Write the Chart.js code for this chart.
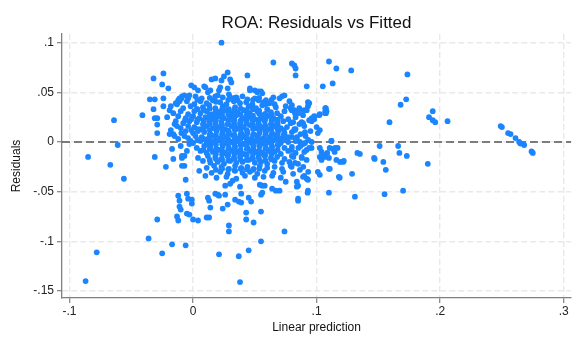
<!DOCTYPE html>
<html>
<head>
<meta charset="utf-8">
<title>ROA: Residuals vs Fitted</title>
<script src="https://cdn.jsdelivr.net/npm/chart.js@4.4.1/dist/chart.umd.min.js"></script>
<style>
  html, body { margin: 0; padding: 0; background: #fff; }
  canvas { display: block; }
</style>
</head>
<body>
<canvas id="rvf" width="574" height="337"></canvas>
<script>
// [fitted, residual] pairs, grouped by where they sit in the plot
const leftTail = [
  [-0.087,-0.140],[-0.085,-0.015],[-0.078,-0.111],[-0.067,-0.023],[-0.064,0.022],[-0.061,-0.003],
  [-0.056,-0.037],[-0.041,0.027],[-0.036,-0.097],[-0.035,0.043],[-0.032,0.064],[-0.031,0.043],
  [-0.032,0.033],[-0.031,0.024],[-0.029,0.024],[-0.029,0.0175],[-0.029,0.009],[-0.031,-0.015],
  [-0.029,-0.078],[-0.025,-0.112],[-0.025,0.058],[-0.024,0.069],[-0.024,0.044],[-0.024,0.036],
  [-0.022,-0.025],[-0.021,0.025],[-0.020,0.054],[-0.019,0.032],[-0.019,0.008],[-0.016,0.008],
  [-0.017,-0.007],[-0.016,-0.017],[-0.017,-0.103],[-0.015,0.018],[-0.015,0.006],[-0.014,0.021],
  [-0.013,0.016],[-0.013,0.038],[-0.011,0.041],[-0.0095,0.0437],[-0.0095,0.009],[-0.009,-0.016],
  [-0.009,-0.024],[-0.018,0.012],[-0.012,0.003],[-0.007,0.006],[-0.010,-0.004],[-0.005,-0.009],
  [-0.003,-0.002],[-0.002,0.001]
];

const lowerSpread = [
  [-0.013,-0.075],[-0.012,-0.079],[-0.012,-0.054],[-0.011,-0.059],[-0.010,-0.068],[-0.011,-0.065],
  [-0.009,-0.014],[-0.007,-0.014],[-0.007,-0.024],[-0.006,-0.038],[-0.006,-0.104],[-0.005,-0.052],
  [-0.004,-0.057],[-0.005,-0.072],[-0.003,-0.073],[0.000,-0.078],[0.004,-0.079],[-0.001,-0.058],
  [-0.001,-0.062],[0.011,-0.076],[0.013,-0.076],[0.012,-0.056],[0.013,-0.059],[0.014,-0.066],
  [0.018,-0.052],[0.020,-0.053],[0.021,-0.054],[0.021,-0.113],[0.024,-0.067],[0.026,-0.053],
  [0.028,-0.063],[0.029,-0.084],[0.029,-0.090],[0.026,-0.044],[0.030,-0.042],[0.032,-0.039],
  [0.034,-0.058],[0.037,-0.060],[0.039,-0.061],[0.037,-0.115],[0.038,-0.141],[0.039,-0.052],
  [0.038,-0.045],[0.043,-0.071],[0.043,-0.078],[0.045,-0.109],[0.045,-0.056],[0.047,-0.060],
  [0.049,-0.081],[0.055,-0.100],[0.055,-0.070],[0.054,-0.043],[0.056,-0.044],[0.058,-0.044],
  [0.055,-0.053],[0.056,-0.051],[0.064,-0.047],[0.067,-0.049],[0.070,-0.049],[0.074,-0.090],
  [0.075,-0.040],[0.084,-0.040],[0.085,-0.044],[0.085,-0.057],[0.093,-0.049],[0.092,-0.037],
  [0.090,-0.034]
];

const upperSpread = [
  [-0.0015,0.057],[0.001,0.055],[-0.004,0.044],[0.023,0.100],[0.028,0.070],[0.025,0.066],
  [0.030,0.063],[0.031,0.060],[0.023,0.062],[0.015,0.063],[0.018,0.064],[0.044,0.067],
  [0.065,0.080],[0.080,0.079],[0.082,0.077],[0.083,0.074],[0.083,0.067],[0.092,0.056],
  [0.105,0.056],[0.113,0.059],[0.110,0.081],[0.116,0.074],[0.128,0.072],
  [-0.012,0.042],[-0.011,0.044],[-0.009,0.046],[-0.007,0.047],[-0.003,0.047],[0.004,0.052],
  [0.009,0.056],[0.010,0.055],[0.012,0.050],[0.014,0.052],[0.018,0.046],[0.020,0.047],
  [0.021,0.052],[0.022,0.055],[0.028,0.054],[0.029,0.048],[0.030,0.045],[0.035,0.045],
  [0.036,0.042],[0.046,0.054],[0.046,0.052],[0.050,0.052],[0.052,0.050],[0.053,0.051],
  [0.055,0.051],[0.056,0.049],[0.050,0.044],[0.053,0.042],[0.059,0.042],[0.062,0.039],
  [0.070,0.044],[0.072,0.046],[0.074,0.047],[0.075,0.036],[0.079,0.034],[0.082,0.032],
  [0.090,0.032],[0.093,0.040],[0.093,0.036],[0.094,0.022],[0.096,0.024],[0.098,0.026],
  [0.107,0.034],[0.107,0.031],[0.107,0.029],[0.102,0.027]
];

const rightSpread = [
  [0.0798,0.032],[0.0825,0.029],[0.0865,0.032],[0.0879,0.020],[0.0825,0.012],[0.0798,0.005],
  [0.0865,0.000],[0.0906,-0.001],[0.0932,0.002],[0.0852,-0.006],[0.0919,-0.008],[0.0959,-0.006],
  [0.0798,-0.008],[0.0812,-0.015],[0.0879,-0.015],[0.0919,-0.018],[0.0825,-0.021],[0.0892,-0.025],
  [0.0798,-0.025],[0.0865,-0.028],[0.0932,-0.030],[0.094,0.039],[0.092,0.032],[0.1075,0.034],
  [0.108,0.031],[0.1075,0.029],[0.1026,0.028],[0.098,0.023],[0.096,0.021],[0.081,0.020],
  [0.089,0.019],[0.100,0.015],[0.1026,0.012],[0.101,0.009],[0.0906,0.010],[0.083,0.013],
  [0.084,0.005],[0.112,0.001],[0.1287,-0.032],[0.1187,-0.036],[0.1107,-0.027],[0.0927,-0.051],
  [0.085,-0.059],[0.089,-0.035],[0.093,-0.038],[0.1026,-0.006],[0.104,-0.010],[0.1056,-0.013],
  [0.107,-0.015],[0.1086,-0.011],[0.110,-0.016],[0.104,-0.018],[0.1026,-0.015],[0.1106,-0.006],
  [0.1133,-0.007],[0.1146,-0.010],[0.116,-0.018],[0.119,-0.020],[0.1214,-0.020],[0.101,-0.030],
  [0.1026,-0.033],[0.084,-0.045]
];

const rightTail = [
  [0.1735,0.068],[0.1725,0.043],[0.168,0.0375],[0.159,0.020],[0.194,0.031],[0.191,0.025],
  [0.194,0.022],[0.196,0.020],[0.206,0.021],[0.249,0.016],[0.250,0.015],[0.255,0.009],
  [0.257,0.008],[0.261,0.004],[0.264,0.000],[0.265,-0.0015],[0.268,-0.003],[0.274,-0.0095],
  [0.275,-0.011],[0.151,-0.004],[0.1465,-0.016],[0.154,-0.020],[0.156,-0.028],[0.155,-0.0525],
  [0.166,-0.004],[0.167,-0.011],[0.173,-0.014],[0.170,-0.049],[0.190,-0.022],[0.133,-0.011],
  [0.135,-0.012],[0.131,-0.055],[0.110,-0.051],[0.118,-0.035],[0.110,-0.027],
  [0.122,-0.019],[0.112,0.001],[0.115,-0.006],[0.117,-0.006],[0.147,-0.017]
];

const core = [
  [0.002,0.046],[0.007,0.044],[0.024,0.045],[0.040,0.046],[0.044,0.043],[0.065,0.045],
  [-0.014,0.039],[-0.005,0.041],[0.001,0.038],[0.006,0.041],[0.011,0.039],[0.016,0.042],[0.022,0.040],
  [0.027,0.038],[0.033,0.041],[0.038,0.039],[0.043,0.040],[0.048,0.038],[0.057,0.040],[0.066,0.038],[0.078,0.041],
  [-0.018,0.036],[-0.008,0.034],[-0.002,0.036],[0.003,0.033],[0.008,0.035],[0.013,0.037],[0.018,0.034],
  [0.024,0.036],[0.029,0.033],[0.034,0.035],[0.045,0.036],[0.051,0.034],[0.056,0.037],[0.060,0.033],
  [0.067,0.035],[0.080,0.037],[0.086,0.034],
  [-0.016,0.029],[-0.010,0.031],[-0.004,0.028],[0.001,0.031],[0.006,0.029],[0.011,0.031],[0.016,0.028],
  [0.021,0.030],[0.026,0.032],[0.031,0.029],[0.036,0.030],[0.041,0.032],[0.046,0.029],[0.052,0.031],
  [0.058,0.028],[0.063,0.030],[0.068,0.029],[0.074,0.031],[0.085,0.029],
  [-0.012,0.026],[-0.006,0.024],[0.000,0.026],[0.005,0.024],[0.010,0.025],[0.015,0.023],[0.020,0.026],
  [0.025,0.024],[0.030,0.025],[0.035,0.027],[0.040,0.024],[0.045,0.026],[0.050,0.023],[0.055,0.025],
  [0.060,0.026],[0.065,0.024],[0.071,0.026],[0.077,0.023],[0.083,0.025],[0.089,0.027],
  [-0.008,0.019],[-0.003,0.021],[0.003,0.020],[0.008,0.018],[0.013,0.021],[0.018,0.019],[0.023,0.020],
  [0.028,0.018],[0.033,0.021],[0.038,0.019],[0.043,0.020],[0.048,0.022],[0.053,0.019],[0.058,0.021],
  [0.063,0.018],[0.068,0.020],[0.073,0.021],[0.079,0.019],[0.086,0.018],
  [-0.010,0.014],[-0.004,0.016],[0.001,0.015],[0.006,0.013],[0.011,0.016],[0.016,0.014],[0.021,0.015],
  [0.026,0.013],[0.031,0.016],[0.036,0.014],[0.041,0.015],[0.046,0.017],[0.051,0.014],[0.056,0.015],
  [0.061,0.013],[0.066,0.016],[0.071,0.014],[0.076,0.015],[0.082,0.013],[0.090,0.016],
  [-0.006,0.011],[0.000,0.009],[0.004,0.011],[0.009,0.010],[0.014,0.008],[0.019,0.011],[0.024,0.009],
  [0.029,0.010],[0.034,0.012],[0.039,0.009],[0.044,0.010],[0.049,0.008],[0.054,0.011],[0.059,0.010],
  [0.064,0.009],[0.069,0.011],[0.074,0.009],[0.080,0.010],[0.087,0.008],[0.095,0.011],
  [-0.004,0.004],[0.002,0.006],[0.007,0.005],[0.012,0.003],[0.017,0.006],[0.022,0.004],[0.027,0.005],
  [0.032,0.007],[0.037,0.004],[0.042,0.005],[0.047,0.003],[0.052,0.006],[0.057,0.004],[0.062,0.005],
  [0.067,0.007],[0.072,0.004],[0.077,0.005],[0.084,0.003],[0.091,0.006],
  [0.000,-0.001],[0.006,0.001],[0.011,-0.001],[0.016,0.000],[0.021,0.002],[0.026,-0.001],[0.031,0.000],
  [0.036,0.001],[0.041,-0.002],[0.046,0.000],[0.051,0.001],[0.056,-0.001],[0.061,0.000],[0.066,0.002],
  [0.071,-0.001],[0.077,0.000],[0.083,0.001],[0.089,-0.002],[0.096,0.000],
  [0.003,-0.006],[0.009,-0.004],[0.014,-0.005],[0.019,-0.007],[0.024,-0.004],[0.029,-0.006],[0.034,-0.005],
  [0.039,-0.003],[0.044,-0.006],[0.049,-0.005],[0.054,-0.004],[0.059,-0.006],[0.064,-0.005],[0.069,-0.003],
  [0.074,-0.006],[0.080,-0.005],[0.087,-0.004],[0.094,-0.006],
  [0.006,-0.009],[0.011,-0.011],[0.016,-0.010],[0.021,-0.008],[0.026,-0.011],[0.031,-0.009],[0.036,-0.010],
  [0.041,-0.012],[0.046,-0.009],[0.051,-0.010],[0.056,-0.011],[0.061,-0.009],[0.066,-0.010],[0.071,-0.012],
  [0.077,-0.009],[0.083,-0.011],[0.090,-0.010],
  [0.004,-0.016],[0.012,-0.014],[0.018,-0.015],[0.023,-0.017],[0.028,-0.014],[0.033,-0.016],[0.038,-0.015],
  [0.043,-0.013],[0.048,-0.016],[0.053,-0.015],[0.058,-0.014],[0.063,-0.016],[0.068,-0.015],[0.074,-0.017],
  [0.080,-0.014],[0.088,-0.016],
  [0.008,-0.019],[0.014,-0.021],[0.020,-0.020],[0.025,-0.022],[0.030,-0.019],[0.035,-0.021],[0.040,-0.020],
  [0.045,-0.018],[0.050,-0.021],[0.055,-0.020],[0.060,-0.022],[0.066,-0.019],[0.072,-0.021],[0.078,-0.020],
  [0.085,-0.022],
  [0.011,-0.026],[0.017,-0.024],[0.023,-0.025],[0.029,-0.027],[0.034,-0.024],[0.039,-0.026],[0.044,-0.025],
  [0.049,-0.027],[0.054,-0.024],[0.060,-0.026],[0.066,-0.025],[0.072,-0.027],[0.079,-0.024],
  [0.005,-0.029],[0.015,-0.031],[0.022,-0.030],[0.028,-0.032],[0.034,-0.029],[0.040,-0.031],[0.046,-0.030],
  [0.052,-0.032],[0.058,-0.029],[0.065,-0.031],[0.073,-0.030],[0.081,-0.032],
  [0.010,-0.034],[0.019,-0.036],[0.027,-0.035],[0.035,-0.037],[0.042,-0.034],[0.050,-0.036],[0.057,-0.035],
  [0.064,-0.034],[0.071,-0.036],
  [0.0135,0.0275],[0.0235,0.0285],[0.0335,0.0265],[0.0435,0.0275],[0.0535,0.0285],[0.0635,0.0270],
  [0.0085,0.0175],[0.0185,0.0165],[0.0285,0.0180],[0.0385,0.0170],[0.0485,0.0175],[0.0585,0.0165],[0.0685,0.0180],
  [0.0135,0.0075],[0.0235,0.0080],[0.0335,0.0070],[0.0435,0.0075],[0.0535,0.0085],[0.0635,0.0070],[0.0735,0.0075],
  [0.0185,-0.0025],[0.0285,-0.0020],[0.0385,-0.0030],[0.0485,-0.0025],[0.0585,-0.0020],[0.0685,-0.0030],
  [0.0235,-0.0125],[0.0335,-0.0120],[0.0435,-0.0130],[0.0535,-0.0125],[0.0635,-0.0120]
];

// densest part of the cloud, offset between the rows above
const coreInner = [
  [0.0035,0.0425],[0.0135,0.0445],[0.0185,0.0405],[0.0285,0.0425],[0.0335,0.0445],[0.0485,0.0425],
  [0.0535,0.0445],[0.0585,0.0380],[0.0635,0.0425],
  [0.0035,0.0330],[0.0085,0.0320],[0.0135,0.0335],[0.0185,0.0315],[0.0235,0.0330],[0.0285,0.0325],
  [0.0335,0.0320],[0.0385,0.0335],[0.0435,0.0320],[0.0485,0.0330],[0.0535,0.0315],
  [-0.0065,0.0220],[-0.0015,0.0230],[0.0035,0.0225],[0.0085,0.0215],[0.0135,0.0230],[0.0185,0.0220],
  [0.0235,0.0235],[0.0285,0.0220],[0.0335,0.0225],[0.0385,0.0215],[0.0435,0.0230],[0.0485,0.0220],
  [0.0535,0.0225],[0.0585,0.0235],[0.0635,0.0220],[0.0685,0.0225],
  [-0.0015,0.0120],[0.0035,0.0130],[0.0085,0.0125],[0.0135,0.0120],[0.0185,0.0130],[0.0235,0.0125],
  [0.0285,0.0115],[0.0335,0.0130],[0.0385,0.0125],[0.0435,0.0120],[0.0485,0.0130],[0.0535,0.0125],
  [0.0585,0.0115],[0.0635,0.0130],[0.0685,0.0125],[0.0735,0.0120],
  [0.0035,0.0020],[0.0085,0.0030],[0.0135,0.0025],[0.0185,0.0015],[0.0235,0.0030],[0.0285,0.0025],
  [0.0335,0.0020],[0.0385,0.0030],[0.0435,0.0025],[0.0485,0.0015],[0.0535,0.0030],[0.0585,0.0025],
  [0.0635,0.0020],[0.0685,0.0030],[0.0735,0.0025],
  [0.0085,-0.0080],[0.0135,-0.0070],[0.0185,-0.0075],[0.0235,-0.0085],[0.0285,-0.0070],[0.0335,-0.0075],
  [0.0385,-0.0080],[0.0435,-0.0070],[0.0485,-0.0075],[0.0535,-0.0085],[0.0585,-0.0070],[0.0635,-0.0075],
  [0.0685,-0.0080],
  [0.0135,-0.0180],[0.0185,-0.0170],[0.0235,-0.0175],[0.0285,-0.0185],[0.0335,-0.0170],[0.0385,-0.0175],
  [0.0435,-0.0180],[0.0485,-0.0170],[0.0535,-0.0175],[0.0585,-0.0185],[0.0635,-0.0175],
  [0.0185,-0.0280],[0.0235,-0.0270],[0.0285,-0.0275],[0.0335,-0.0285],[0.0385,-0.0270],[0.0435,-0.0275],
  [0.0485,-0.0280],[0.0535,-0.0270]
];

// centre of the cloud where the markers overlap into a solid patch
const coreDense = [
  [0.0185,0.0270],[0.0285,0.0280],[0.0385,0.0275],[0.0485,0.0265],[0.0585,0.0280],
  [0.0135,0.0180],[0.0235,0.0170],[0.0335,0.0175],[0.0435,0.0185],[0.0535,0.0170],[0.0635,0.0175],
  [0.0185,0.0070],[0.0285,0.0080],[0.0385,0.0075],[0.0485,0.0070],[0.0585,0.0080],[0.0685,0.0075],
  [0.0135,-0.0030],[0.0235,-0.0020],[0.0335,-0.0025],[0.0435,-0.0020],[0.0535,-0.0030],[0.0635,-0.0025],
  [0.0185,-0.0120],[0.0285,-0.0130],[0.0385,-0.0125],[0.0485,-0.0120],[0.0585,-0.0130]
];

const xTickValues = [-0.1, 0, 0.1, 0.2, 0.3];
const xTickLabels = ['-.1', '0', '.1', '.2', '.3'];
const yTickValues = [0.1, 0.05, 0, -0.05, -0.1, -0.15];
const yTickLabels = ['.1', '.05', '0', '-.05', '-.1', '-.15'];
const refLineY = 0;

const points = []
  .concat(leftTail, lowerSpread, upperSpread, rightSpread, rightTail, core, coreInner, coreDense)
  .map(p => ({ x: p[0], y: p[1] }));

const FONT = "'Liberation Sans', Arial, Helvetica, sans-serif";

// dashed reference line at residual = 0, drawn under the markers
const zeroLine = {
  id: 'zeroLine',
  beforeDatasetsDraw(chart) {
    const { ctx, chartArea: a, scales: { y } } = chart;
    const py = y.getPixelForValue(refLineY);
    ctx.save();
    ctx.strokeStyle = '#555555';
    ctx.lineWidth = 1.7;
    ctx.setLineDash([8, 4]);
    ctx.beginPath();
    ctx.moveTo(a.left, py);
    ctx.lineTo(a.right, py);
    ctx.stroke();
    ctx.restore();
  }
};

const gridOpts = {
  color: '#e9e9e9',
  lineWidth: 1.4,
  drawTicks: true,
  tickLength: 5,
  tickColor: '#808080',
  tickWidth: 1.2,
  tickBorderDash: []
};
const borderOpts = { display: true, color: '#808080', width: 1.3, dash: [6, 3] };

new Chart(document.getElementById('rvf'), {
  type: 'scatter',
  data: {
    datasets: [{
      data: points,
      backgroundColor: '#1a85ff',
      pointRadius: 2.9,
      pointHoverRadius: 2.9,
      pointBorderWidth: 0
    }]
  },
  options: {
    responsive: false,
    animation: false,
    events: [],
    layout: { padding: 0 },
    plugins: {
      legend: { display: false },
      tooltip: { enabled: false },
      title: {
        display: true,
        text: 'ROA: Residuals vs Fitted',
        fullSize: false,
        color: '#111',
        font: { family: FONT, size: 17, weight: 'normal' },
        padding: { top: 13.6, bottom: 0 }
      }
    },
    scales: {
      x: {
        type: 'linear',
        min: -0.1061,
        max: 0.306,
        afterBuildTicks: s => { s.ticks = xTickValues.map(v => ({ value: v })); },
        afterFit: s => { s.height = 39; },
        ticks: {
          autoSkip: false,
          maxRotation: 0,
          padding: 1.5,
          color: '#222',
          font: { family: FONT, size: 12 },
          callback: (v, i) => xTickLabels[i]
        },
        grid: gridOpts,
        border: borderOpts,
        title: {
          display: true,
          text: 'Linear prediction',
          color: '#111',
          font: { family: FONT, size: 12 },
          padding: { top: 0, bottom: 2 }
        }
      },
      y: {
        type: 'linear',
        min: -0.157,
        max: 0.1087,
        afterBuildTicks: s => { s.ticks = yTickValues.map(v => ({ value: v })); },
        afterFit: s => { s.width = 62; },
        ticks: {
          autoSkip: false,
          padding: 3,
          color: '#222',
          font: { family: FONT, size: 12 },
          callback: (v, i) => yTickLabels[i]
        },
        grid: gridOpts,
        border: borderOpts,
        title: {
          display: true,
          text: 'Residuals',
          color: '#111',
          font: { family: FONT, size: 12 },
          padding: { top: 9, bottom: 0 }
        }
      }
    }
  },
  plugins: [zeroLine]
});
</script>
</body>
</html>
